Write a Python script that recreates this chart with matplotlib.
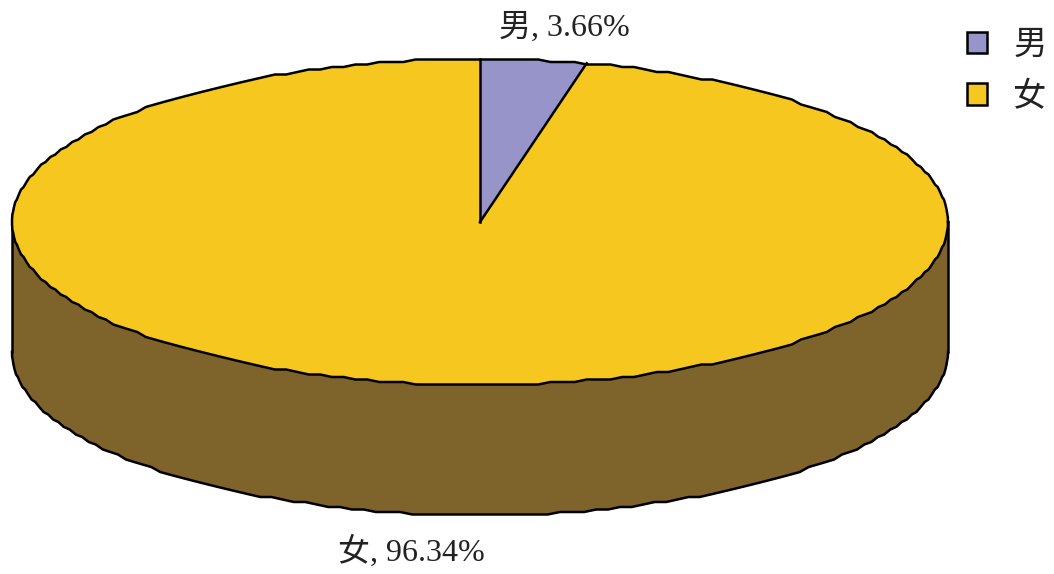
import numpy as np
import matplotlib
matplotlib.use('Agg')
import matplotlib.pyplot as plt

FONTS = ['Liberation Serif', 'Noto Sans CJK TC']
plt.rcParams['font.family'] = FONTS

categories = ['男', '女']
shares = [3.66, 96.34]
colors = ['#9694C8', '#F6C81F']
side_color = '#7E632A'
label_color = '#222222'

W, H = 1054, 574
CX, CY, RX, RY = 480, 222, 468, 163
DEPTH = 130 / RY  # height of the side wall, in pie radii
EDGE = 1.8
STEP = 2.5 / RY   # the original outline is stepped, a few px


def rim(t, drop=0.0):
  # stepped ellipse outline, t in radians
  return np.cos(t), np.round(np.sin(t) / STEP) * STEP - drop


fig = plt.figure(figsize=(W / 100, H / 100), dpi=100)
ax = fig.add_axes([(CX - RX) / W, 1 - (CY + RY) / H, 2 * RX / W, 2 * RY / H])

# side wall goes first so the top of the pie covers it
t = np.linspace(np.pi, 2 * np.pi, 120)
x_low, y_low = rim(t, DEPTH)
ax.fill_between(x_low, 0, y_low, color=side_color, zorder=1, lw=0, clip_on=False)
ax.plot(x_low, y_low, color='black', lw=EDGE, zorder=2, clip_on=False)
ax.plot([-1, -1], [0, -DEPTH], color='black', lw=EDGE, zorder=2, clip_on=False)
ax.plot([1, 1], [0, -DEPTH], color='black', lw=EDGE, zorder=2, clip_on=False)

wedges, _ = ax.pie(shares, colors=colors, startangle=90, counterclock=False, radius=1,
                   wedgeprops={'edgecolor': 'none', 'linewidth': 0, 'zorder': 3})
ax.set_aspect('auto')
ax.set_xlim(-1, 1)
ax.set_ylim(-1, 1)
for w in wedges:
  w.set_clip_on(False)

# outline of the top, with the boundaries between the slices
t = np.linspace(0, 2 * np.pi, 240)
x_rim, y_rim = rim(t)
ax.plot(x_rim, y_rim, color='black', lw=EDGE, zorder=4, clip_on=False)
angle = np.pi / 2
for share in [0] + shares[:-1]:
  angle -= 2 * np.pi * share / 100
  ax.plot([0, np.cos(angle)], [0, np.sin(angle)], color='black', lw=EDGE, zorder=4, clip_on=False)

# data labels, placed in figure pixels
fig.text(564 / W, 1 - 28 / H, f'{categories[0]}, {shares[0]:.2f}%', fontsize=23, color=label_color,
         ha='center', va='center')
fig.text(411 / W, 1 - 553 / H, f'{categories[1]}, {shares[1]:.2f}%', fontsize=23, color=label_color,
         ha='center', va='center')

fig.legend(wedges, categories, loc='upper left', bbox_to_anchor=(967 / W, 1 - 30.5 / H),
           frameon=False, fontsize=24, labelcolor=label_color, borderaxespad=0, borderpad=0,
           handlelength=0.6, handleheight=0.6, handletextpad=0.79, labelspacing=0.62)
for handle in fig.legends[0].get_patches():
  handle.set_edgecolor('black')
  handle.set_linewidth(EDGE)

fig.savefig('out.png', dpi=100)
